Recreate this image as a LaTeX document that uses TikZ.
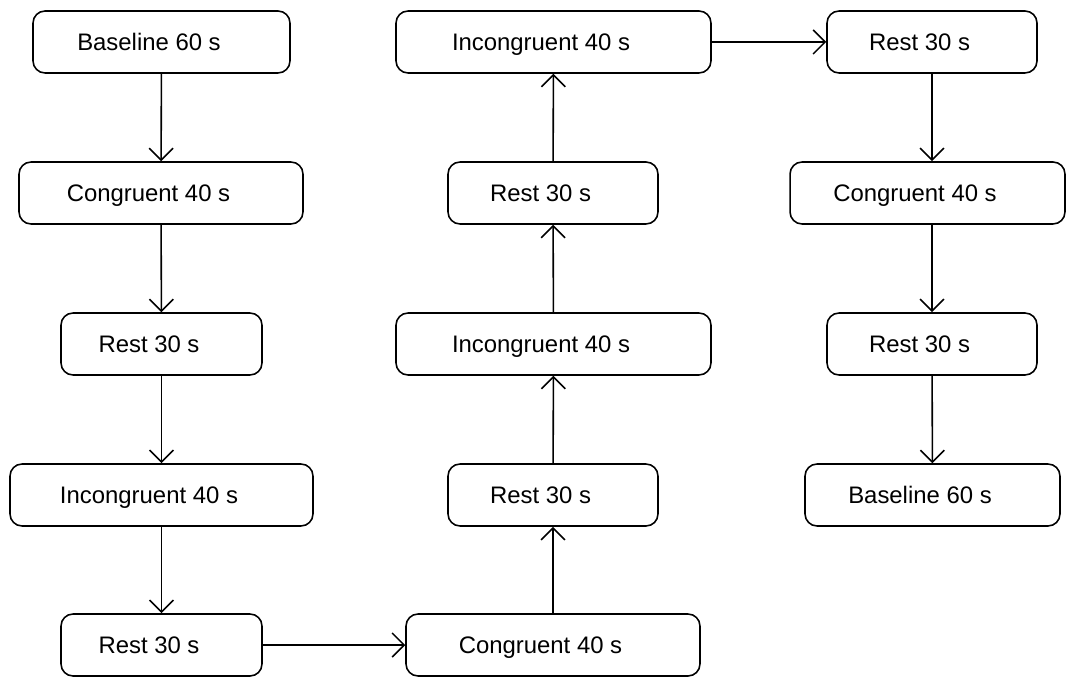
\documentclass[tikz,border=0pt]{standalone}
\usepackage{fontspec}
\setmainfont{Liberation Sans}
\usepackage{tikz}
\usetikzlibrary{arrows.meta,shapes}
\tikzstyle{block}=[draw,rounded corners=0.24cm,line width=0.9pt,minimum height=1.24cm,inner sep=0pt,
  text height=9.7pt,text depth=0pt,font=\fontsize{13.6}{16}\selectfont,execute at end node={\hspace*{0.5cm}}]
\tikzstyle{edge} = [draw,line width=0.9pt,-]

\begin{document}
\begin{tikzpicture}[x=0.02cm,y=-0.02cm]
      \tikzset{edge/.style = {-{Straight Barb[length=6.8pt,width=13.6pt]},line width=0.9pt}}
      \useasboundingbox (0,0) rectangle (1067,678);
      % first column
      \node[block,minimum width=5.14cm] (b1) at (161.5,42) {Baseline 60 s};
      \node[block,minimum width=5.68cm] (c1) at (161,193) {Congruent 40 s};
      \node[block,minimum width=4.02cm] (r1) at (161.5,344) {Rest 30 s};
      \node[block,minimum width=6.06cm] (i1) at (161.5,495) {Incongruent 40 s};
      \node[block,minimum width=4.02cm] (r2) at (161.5,645) {Rest 30 s};
      % second column
      \node[block,minimum width=5.88cm] (c2) at (553,645) {Congruent 40 s};
      \node[block,minimum width=4.2cm] (r3) at (553,495) {Rest 30 s};
      \node[block,minimum width=6.3cm] (i2) at (553.5,344) {Incongruent 40 s};
      \node[block,minimum width=4.2cm] (r4) at (553,193) {Rest 30 s};
      \node[block,minimum width=6.3cm] (i3) at (553.5,42) {Incongruent 40 s};
      % third column
      \node[block,minimum width=4.2cm] (r5) at (932,42) {Rest 30 s};
      \node[block,minimum width=5.5cm] (c3) at (927.5,193) {Congruent 40 s};
      \node[block,minimum width=4.2cm] (r6) at (932,344) {Rest 30 s};
      \node[block,minimum width=5.1cm] (b2) at (932.5,495) {Baseline 60 s};
      \draw[edge] (b1) to (c1);
      \draw[edge] (c1) to (r1);
      \draw[edge] (r1) to (i1);
      \draw[edge] (i1) to (r2);
      \draw[edge] (r2) to (c2);
      \draw[edge] (c2) to (r3);
      \draw[edge] (r3) to (i2);
      \draw[edge] (i2) to (r4);
      \draw[edge] (r4) to (i3);
      \draw[edge] (i3) to (r5);
      \draw[edge] (r5.south) to (r5.south |- c3.north);
      \draw[edge] (r5.south |- c3.south) to (r6.north);
      \draw[edge] (r6) to (b2);
    \end{tikzpicture}
\end{document}
